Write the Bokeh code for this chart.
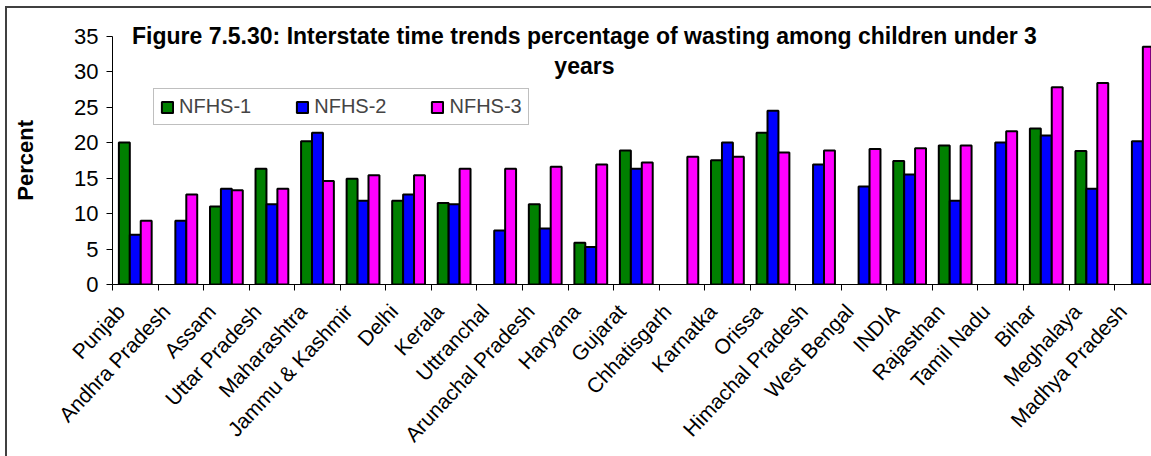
import math
from bokeh.plotting import figure
from bokeh.layouts import row
from bokeh.models import (ColumnDataSource, Range1d, FixedTicker, Legend, LegendItem,
                          Label, CustomJSTickFormatter)
from bokeh.embed import file_html
from bokeh.resources import INLINE

nan = float("nan")

states = ["Punjab", "Andhra Pradesh", "Assam", "Uttar Pradesh", "Maharashtra",
          "Jammu & Kashmir", "Delhi", "Kerala", "Uttranchal", "Arunachal Pradesh",
          "Haryana", "Gujarat", "Chhatisgarh", "Karnatka", "Orissa", "Himachal Pradesh",
          "West Bengal", "INDIA", "Rajasthan", "Tamil Nadu", "Bihar", "Meghalaya",
          "Madhya Pradesh"]
nfhs1 = [20.0, nan, 11.0, 16.3, 20.2, 14.9, 11.8, 11.5, nan, 11.3, 5.9, 18.9, nan,
         17.5, 21.4, nan, nan, 17.4, 19.6, nan, 22.0, 18.8, nan]
nfhs2 = [7.0, 9.0, 13.5, 11.3, 21.4, 11.8, 12.7, 11.3, 7.6, 7.9, 5.3, 16.3, nan,
         20.0, 24.5, 16.9, 13.8, 15.5, 11.8, 20.0, 21.0, 13.5, 20.2]
nfhs3 = [9.0, 12.7, 13.3, 13.5, 14.6, 15.4, 15.4, 16.3, 16.3, 16.6, 16.9, 17.2, 18.0,
         18.0, 18.6, 18.9, 19.1, 19.2, 19.6, 21.6, 27.8, 28.4, 33.5]
series_names = ["NFHS-1", "NFHS-2", "NFHS-3"]
series_colors = ["#008000", "#0000FF", "#FF00FF"]
y_ticks = [0, 5, 10, 15, 20, 25, 30, 35]
y_title = "Percent"
title_line1 = "Figure 7.5.30: Interstate time trends percentage of wasting among children under 3"
title_line2 = "years"

FONT = "Liberation Sans"
n = len(states)
centers = [i + 0.5 for i in range(n)]
label_pos = [i + 0.18 for i in range(n)]
bw = 0.24

W = 1151
H = 456
WL = 40  # side strip holding the y-axis title
Y_END = 40.03

src = ColumnDataSource(dict(
    x1=[c - bw for c in centers], x2=centers, x3=[c + bw for c in centers],
    n1=nfhs1, n2=nfhs2, n3=nfhs3))

# --- side strip with the y-axis title (its frame is aligned with the main frame) ---
side = figure(width=WL, height=H, x_range=Range1d(0, WL), y_range=Range1d(0, Y_END),
              x_axis_type=None, y_axis_type=None, output_backend="svg",
              toolbar_location=None, min_border=0)
side.outline_line_color = None
side.background_fill_alpha = 0
side.border_fill_alpha = 0
side.add_layout(Label(x=25, y=(y_ticks[0] + y_ticks[-1]) / 2, text=y_title, angle=math.pi / 2,
                      text_align="center", text_baseline="middle",
                      text_font=FONT, text_font_size="22px", text_font_style="bold",
                      text_color="black"))

# --- main chart ---
p = figure(width=W - WL, height=H, x_range=Range1d(0, 22.81), y_range=Range1d(0, Y_END),
           output_backend="svg", toolbar_location=None,
           min_border_left=112 - WL, min_border_right=0, min_border_top=0,
           min_border_bottom=172)
p.outline_line_color = None
p.xgrid.visible = False
p.ygrid.visible = False
p.background_fill_alpha = 0
p.border_fill_alpha = 0

rs = []
for xcol, ycol, col in zip(["x1", "x2", "x3"], ["n1", "n2", "n3"], series_colors):
    r = p.vbar(x=xcol, top=ycol, width=bw, bottom=0, source=src, fill_color=col,
               line_color="black", line_width=2)
    rs.append(r)

# y axis
ya = p.yaxis[0]
ya.ticker = FixedTicker(ticks=y_ticks)
ya.bounds = (0, 35)
ya.major_tick_out = 6
ya.major_tick_in = 0
ya.minor_tick_line_color = None
ya.major_label_text_font = FONT
ya.major_label_text_font_size = "22px"
ya.major_label_text_color = "black"
ya.major_label_standoff = 8
ya.axis_line_color = "black"
ya.major_tick_line_color = "black"

# x axis
xa = p.xaxis[0]
xa.ticker = FixedTicker(ticks=label_pos, minor_ticks=list(range(n)))
xa.formatter = CustomJSTickFormatter(args=dict(names=states),
                                     code="const i = Math.floor(tick); return names[i] || '';")
xa.major_tick_line_color = None
xa.major_tick_out = 0
xa.major_tick_in = 0
xa.minor_tick_line_color = "black"
xa.minor_tick_out = 6
xa.minor_tick_in = 0
xa.axis_line_color = "black"
xa.major_label_orientation = 0.82
xa.major_label_text_font = FONT
xa.major_label_text_font_size = "21px"
xa.major_label_text_color = "black"
xa.major_label_standoff = 17

legend = Legend(items=[LegendItem(label=nm, renderers=[r]) for nm, r in zip(series_names, rs)],
                orientation="horizontal", location=(41, 159))
legend.padding = 6
legend.margin = 0
legend.spacing = 44
legend.glyph_width = 14
legend.glyph_height = 14
legend.label_standoff = 5
legend.label_text_font = FONT
legend.label_text_font_size = "20px"
legend.border_line_color = "#808080"
legend.border_line_width = 1.5
legend.background_fill_color = "white"
legend.background_fill_alpha = 1
p.add_layout(legend)

tx = (584 - 112) / 45.56
for txt, ty in [(title_line1, 35.0), (title_line2, 30.77)]:
    p.add_layout(Label(x=tx, y=ty, text=txt, text_align="center", text_baseline="middle",
                       text_font=FONT, text_font_size="23px", text_font_style="bold",
                       text_color="black"))

layout = row(side, p, spacing=0)
layout.styles = {
    "background-color": "white",
    "background-image": "linear-gradient(#404040, #404040), linear-gradient(#404040, #404040)",
    "background-size": "2px 100%, 100% 2px",
    "background-position": "5px 6px, 5px 6px",
    "background-repeat": "no-repeat",
}

open("out.html", "w").write(file_html(layout, INLINE))
